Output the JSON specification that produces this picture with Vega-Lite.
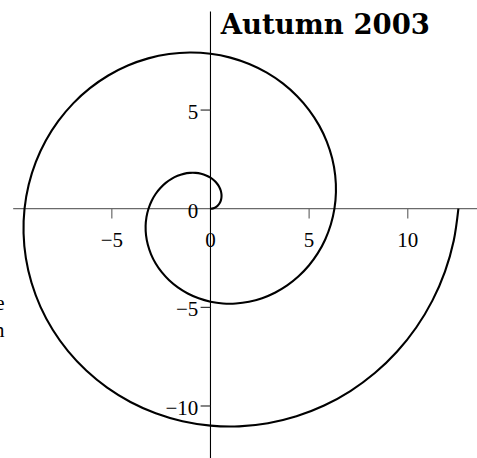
{
  "$schema": "https://vega.github.io/schema/vega-lite/v6.json",
  "width": 477,
  "height": 458,
  "autosize": {"type": "none"},
  "padding": 0,
  "background": "white",
  "config": {"view": {"stroke": null}},
  "encoding": {
    "x": {"type": "quantitative", "scale": {"domain": [-10.668, 13.509], "nice": false, "zero": false}, "axis": null},
    "y": {"type": "quantitative", "scale": {"domain": [-12.636, 10.578], "nice": false, "zero": false}, "axis": null}
  },
  "layer": [
    {
      "data": {"values": [{"xa": -10.0, "xb": 13.509, "ya": 0}]},
      "mark": {"type": "rule", "color": "#6a6a6a", "strokeWidth": 1.3},
      "encoding": {"x": {"field": "xa", "type": "quantitative"}, "x2": {"field": "xb"}, "y": {"field": "ya", "type": "quantitative"}}
    },
    {
      "data": {"values": [{"xa": 0, "ya": -12.636, "yb": 10.0}]},
      "mark": {"type": "rule", "color": "#000000", "strokeWidth": 1.1},
      "encoding": {"x": {"field": "xa", "type": "quantitative"}, "y": {"field": "ya", "type": "quantitative"}, "y2": {"field": "yb"}}
    },
    {
      "data": {"values": [{"v": -5}, {"v": 5}, {"v": 10}]},
      "mark": {"type": "rule", "color": "#6a6a6a", "strokeWidth": 1.2},
      "encoding": {"x": {"field": "v", "type": "quantitative"}, "y": {"datum": 0}, "y2": {"datum": -0.5}}
    },
    {
      "data": {"values": [{"v": 5}, {"v": -5}, {"v": -10}]},
      "mark": {"type": "rule", "color": "#222222", "strokeWidth": 1.1},
      "encoding": {"y": {"field": "v", "type": "quantitative"}, "x": {"datum": -0.5}, "x2": {"datum": 0}}
    },
    {
      "data": {"values": [{"v": -5, "label": "−5"}, {"v": 0, "label": "0"}, {"v": 5, "label": "5"}, {"v": 10, "label": "10"}]},
      "mark": {"type": "text", "font": "Liberation Serif", "fontSize": 21, "align": "center", "baseline": "middle", "color": "#000000"},
      "encoding": {"x": {"field": "v", "type": "quantitative"}, "y": {"datum": -1.64}, "text": {"field": "label"}}
    },
    {
      "data": {"values": [{"v": 5, "label": "5"}, {"v": 0, "label": "0"}, {"v": -5, "label": "−5"}, {"v": -10, "label": "−10"}]},
      "mark": {"type": "text", "font": "Liberation Serif", "fontSize": 21, "align": "right", "baseline": "middle", "dy": 3, "color": "#000000"},
      "encoding": {"y": {"field": "v", "type": "quantitative"}, "x": {"datum": -0.62}, "text": {"field": "label"}}
    },
    {
      "data": {"values": [{"label": "Autumn 2003"}]},
      "mark": {"type": "text", "font": "DejaVu Serif", "fontWeight": "bold", "fontSize": 27.5, "align": "left", "baseline": "alphabetic", "color": "#000000"},
      "encoding": {"x": {"datum": 0.52}, "y": {"datum": 8.86}, "text": {"field": "label"}}
    },
    {
      "data": {"values": [{"label": "e", "ty": -5.12}, {"label": "n", "ty": -6.5}]},
      "mark": {"type": "text", "font": "Liberation Serif", "fontSize": 21, "align": "right", "baseline": "alphabetic", "color": "#000000"},
      "encoding": {"x": {"datum": -10.44}, "y": {"field": "ty", "type": "quantitative"}, "text": {"field": "label"}}
    },
    {
      "data": {"values": [
        {"k":0,"x":0,"y":0},{"k":1,"x":0.1298,"y":0.0171},{"k":2,"x":0.2529,"y":0.0678},{"k":3,"x":0.3628,"y":0.1503},
        {"k":4,"x":0.4534,"y":0.2618},{"k":5,"x":0.5192,"y":0.3984},{"k":6,"x":0.5554,"y":0.5554},{"k":7,"x":0.5578,"y":0.727},
        {"k":8,"x":0.5236,"y":0.9069},{"k":9,"x":0.4508,"y":1.0884},{"k":10,"x":0.3388,"y":1.2644},{"k":11,"x":0.188,"y":1.4276},
        {"k":12,"x":0,"y":1.5708},{"k":13,"x":-0.2221,"y":1.6871},{"k":14,"x":-0.4743,"y":1.7702},{"k":15,"x":-0.7514,"y":1.814},
        {"k":16,"x":-1.0472,"y":1.8138},{"k":17,"x":-1.3547,"y":1.7654},{"k":18,"x":-1.6661,"y":1.6661},{"k":19,"x":-1.9731,"y":1.5141},
        {"k":20,"x":-2.2673,"y":1.309},{"k":21,"x":-2.5397,"y":1.052},{"k":22,"x":-2.7817,"y":0.7454},{"k":23,"x":-2.9849,"y":0.393},
        {"k":24,"x":-3.1416,"y":0},{"k":25,"x":-3.2445,"y":-0.4272},{"k":26,"x":-3.2874,"y":-0.8809},{"k":27,"x":-3.2653,"y":-1.3525},
        {"k":28,"x":-3.1742,"y":-1.8326},{"k":29,"x":-3.0116,"y":-2.3109},{"k":30,"x":-2.7768,"y":-2.7768},{"k":31,"x":-2.4703,"y":-3.2193},
        {"k":32,"x":-2.0944,"y":-3.6276},{"k":33,"x":-1.6531,"y":-3.9909},{"k":34,"x":-1.1519,"y":-4.299},{"k":35,"x":-0.598,"y":-4.5423},
        {"k":36,"x":0,"y":-4.7124},{"k":37,"x":0.6322,"y":-4.8018},{"k":38,"x":1.2874,"y":-4.8047},{"k":39,"x":1.9536,"y":-4.7165},
        {"k":40,"x":2.618,"y":-4.5345},{"k":41,"x":3.2671,"y":-4.2578},{"k":42,"x":3.8875,"y":-3.8875},{"k":43,"x":4.4655,"y":-3.4265},
        {"k":44,"x":4.988,"y":-2.8798},{"k":45,"x":5.4421,"y":-2.2542},{"k":46,"x":5.8163,"y":-1.5585},{"k":47,"x":6.0996,"y":-0.8031},
        {"k":48,"x":6.2832,"y":0},{"k":49,"x":6.3592,"y":0.8372},{"k":50,"x":6.322,"y":1.694},{"k":51,"x":6.1677,"y":2.5547},
        {"k":52,"x":5.8949,"y":3.4034},{"k":53,"x":5.504,"y":4.2234},{"k":54,"x":4.9983,"y":4.9983},{"k":55,"x":4.3828,"y":5.7117},
        {"k":56,"x":3.6652,"y":6.3483},{"k":57,"x":2.8553,"y":6.8933},{"k":58,"x":1.965,"y":7.3335},{"k":59,"x":1.0081,"y":7.657},
        {"k":60,"x":0,"y":7.854},{"k":61,"x":-1.0423,"y":7.9166},{"k":62,"x":-2.1005,"y":7.8393},{"k":63,"x":-3.1559,"y":7.619},
        {"k":64,"x":-4.1888,"y":7.2553},{"k":65,"x":-5.1796,"y":6.7502},{"k":66,"x":-6.109,"y":6.109},{"k":67,"x":-6.9579,"y":5.339},
        {"k":68,"x":-7.7087,"y":4.4506},{"k":69,"x":-8.3446,"y":3.4564},{"k":70,"x":-8.8508,"y":2.3716},{"k":71,"x":-9.2143,"y":1.2131},
        {"k":72,"x":-9.4248,"y":0},{"k":73,"x":-9.4739,"y":-1.2473},{"k":74,"x":-9.3566,"y":-2.5071},{"k":75,"x":-9.0702,"y":-3.757},
        {"k":76,"x":-8.6156,"y":-4.9742},{"k":77,"x":-7.9964,"y":-6.1359},{"k":78,"x":-7.2198,"y":-7.2198},{"k":79,"x":-6.2952,"y":-8.2041},
        {"k":80,"x":-5.236,"y":-9.0691},{"k":81,"x":-4.0575,"y":-9.7958},{"k":82,"x":-2.7781,"y":-10.3681},{"k":83,"x":-1.4182,"y":-10.7717},
        {"k":84,"x":0,"y":-10.9956},{"k":85,"x":1.4523,"y":-11.0313},{"k":86,"x":2.9136,"y":-10.8739},{"k":87,"x":4.3581,"y":-10.5214},
        {"k":88,"x":5.7596,"y":-9.976},{"k":89,"x":7.0921,"y":-9.2426},{"k":90,"x":8.3304,"y":-8.3304},{"k":91,"x":9.4503,"y":-7.2515},
        {"k":92,"x":10.4294,"y":-6.0214},{"k":93,"x":11.247,"y":-4.6586},{"k":94,"x":11.8854,"y":-3.1847},{"k":95,"x":12.3291,"y":-1.6232},
        {"k":96,"x":12.5664,"y":0}
      ]},
      "mark": {"type": "line", "color": "#000000", "strokeWidth": 2.1, "interpolate": "catmull-rom"},
      "encoding": {"x": {"field": "x", "type": "quantitative"}, "y": {"field": "y", "type": "quantitative"}, "order": {"field": "k", "type": "quantitative"}}
    }
  ]
}
